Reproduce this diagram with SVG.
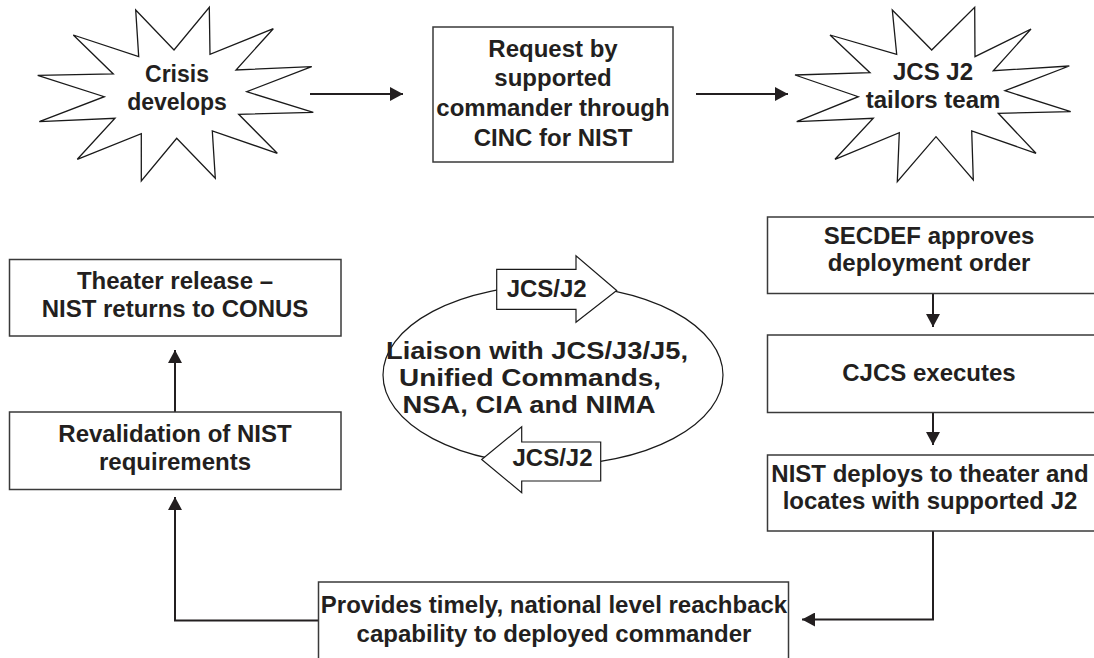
<svg xmlns="http://www.w3.org/2000/svg" width="1094" height="658" viewBox="0 0 1094 658">
<style>
.box{fill:#fff;stroke:#3a3a3a;stroke-width:1.5}
.star{fill:#fff;stroke:#1a1a1a;stroke-width:1.3;stroke-linejoin:miter}
.blk{fill:#fff;stroke:#1a1a1a;stroke-width:1.2}
.t{font-family:"Liberation Sans",Arial,Helvetica,sans-serif;font-weight:bold;font-size:24px;fill:#231f20;text-anchor:middle}
.lt{font-size:23.5px}
.conn{fill:none;stroke:#231f20;stroke-width:2}
</style>
<defs>
<marker id="ah" viewBox="0 0 13 14" markerWidth="13" markerHeight="14" refX="13" refY="7" orient="auto" markerUnits="userSpaceOnUse">
<path d="M0,0 L13,7 L0,14 z" fill="#231f20"/>
</marker>
</defs>
<rect width="1094" height="658" fill="#fff"/>

<g id="connectors">
<line class="conn" x1="310" y1="94" x2="403" y2="94" marker-end="url(#ah)"/>
<line class="conn" x1="696" y1="94" x2="788" y2="94" marker-end="url(#ah)"/>
<line class="conn" x1="933" y1="293" x2="933" y2="327" marker-end="url(#ah)"/>
<line class="conn" x1="933" y1="412" x2="933" y2="445" marker-end="url(#ah)"/>
<polyline class="conn" points="933,531 933,619.5 802,619.5" marker-end="url(#ah)"/>
<polyline class="conn" points="318,620.5 175,620.5 175,497" marker-end="url(#ah)"/>
<line class="conn" x1="175" y1="412" x2="175" y2="350" marker-end="url(#ah)"/>
</g>

<g id="crisis">
<path class="star" d="M135.7,10 L174,50 L209.3,7.3 L210,54.3 L273.3,28.7 L236,70 L311.7,66.7 L246.7,91.7 L313.3,112.3 L238.7,114.3 L277.3,153.3 L212.3,131 L215.3,178.3 L176.7,138.3 L141.3,181 L141.3,133.7 L77.3,159.3 L115,118.3 L39.3,121.7 L104.3,96.7 L37.7,75.3 L113.3,74 L73.3,35 L138.7,56.7 Z"/>
<text class="t" style="font-size:23px" x="177" y="82">Crisis</text>
<text class="t" style="font-size:23px" x="177" y="110">develops</text>
</g>

<g id="request">
<rect class="box" x="433" y="27" width="240" height="135"/>
<text class="t" x="553" y="57">Request by</text>
<text class="t" x="553" y="86">supported</text>
<text class="t" x="553" y="116">commander through</text>
<text class="t" x="553" y="146">CINC for NIST</text>
</g>

<g id="jcs-j2">
<path class="star" d="M892.3,10 L931.7,50 L974.7,7.3 L975,56.7 L1031,29 L993.3,70.7 L1069.3,66 L1005,90.7 L1070.7,111.7 L998.3,113.3 L1036,153.3 L971.7,131 L973.3,180 L936,136.7 L897.3,181.7 L899.3,132.7 L835,159.3 L873.3,118.3 L796.7,121.7 L858.3,96.7 L795,75 L870,72.7 L830,35 L896.7,54.3 Z"/>
<text class="t" x="933" y="80">JCS J2</text>
<text class="t" x="933" y="108">tailors team</text>
</g>

<g id="theater">
<rect class="box" x="9.5" y="259.5" width="331.5" height="76.5"/>
<text class="t" x="175" y="289">Theater release –</text>
<text class="t" x="175" y="317">NIST returns to CONUS</text>
</g>

<g id="revalidation">
<rect class="box" x="9.5" y="412" width="331.5" height="77.5"/>
<text class="t" x="175" y="442">Revalidation of NIST</text>
<text class="t" x="175" y="470">requirements</text>
</g>

<g id="liaison">
<ellipse cx="553" cy="375" rx="170" ry="90" fill="none" stroke="#1a1a1a" stroke-width="1.2"/>
<path class="blk" d="M496.7,269.3 L576,269.3 L576,255.7 L616.7,290.5 L576,322.3 L576,309.3 L496.7,309.3 Z"/>
<text class="t" x="546.7" y="297">JCS/J2</text>
<path class="blk" d="M600.7,442 L521.7,442 L521.7,426.7 L481.7,459.5 L521.7,492.7 L521.7,481 L600.7,481 Z"/>
<text class="t" x="552.5" y="466">JCS/J2</text>
<text class="t lt" x="537" y="359" textLength="302" lengthAdjust="spacingAndGlyphs">Liaison with JCS/J3/J5,</text>
<text class="t lt" x="530" y="386" textLength="262" lengthAdjust="spacingAndGlyphs">Unified Commands,</text>
<text class="t lt" x="529" y="413" textLength="253" lengthAdjust="spacingAndGlyphs">NSA, CIA and NIMA</text>
</g>

<g id="secdef">
<rect class="box" x="767.5" y="217" width="340" height="76.5"/>
<text class="t" x="929" y="243.5">SECDEF approves</text>
<text class="t" x="929" y="271">deployment order</text>
</g>

<g id="cjcs">
<rect class="box" x="767.5" y="335" width="340" height="77.5"/>
<text class="t" x="929" y="381">CJCS executes</text>
</g>

<g id="nist-deploys">
<rect class="box" x="767.5" y="455" width="340" height="76"/>
<text class="t" x="930" y="482">NIST deploys to theater and</text>
<text class="t" x="930" y="508.5">locates with supported J2</text>
</g>

<g id="provides">
<rect class="box" x="318.5" y="582" width="470" height="90"/>
<text class="t" x="554" y="612.5">Provides timely, national level reachback</text>
<text class="t" x="554" y="642">capability to deployed commander</text>
</g>
</svg>
